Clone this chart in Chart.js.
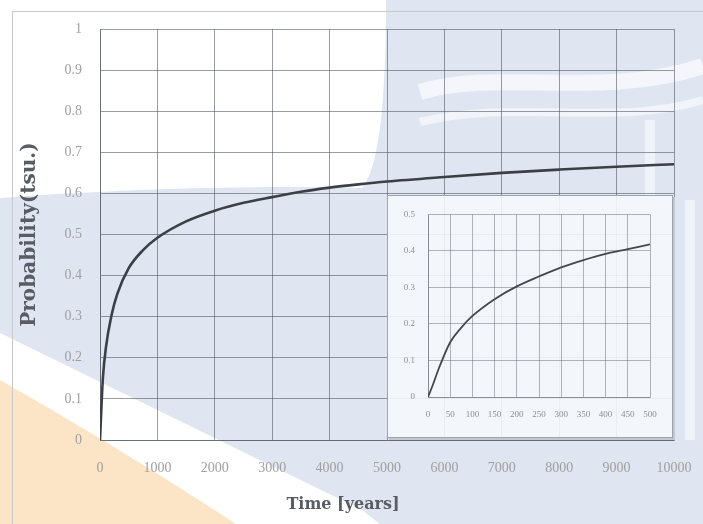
<!DOCTYPE html>
<html>
<head>
<meta charset="utf-8">
<script src="https://cdn.jsdelivr.net/npm/chart.js@4/dist/chart.umd.min.js"></script>
<style>
  html, body { margin:0; padding:0; width:703px; height:524px; overflow:hidden; background:#fff; }
  #wrap { position:relative; width:703px; height:524px; }
  #bg { position:absolute; left:0; top:0; }
  #frame { position:absolute; left:12px; top:11px; width:720px; height:540px; border-left:1px solid #c9c9c9; border-top:1px solid #c9c9c9; }
  #main { position:absolute; left:0; top:0; }
  #insetBox { position:absolute; left:387px; top:195px; width:284px; height:241px;
    background:rgba(246,248,252,0.88); border:1px solid #9ea3ab; box-shadow:2px 2px 0 #c3c7ce; }
  #inset { position:absolute; left:0; top:0; }
</style>
</head>
<body>
<div id="wrap">
  <svg id="bg" width="703" height="524" xmlns="http://www.w3.org/2000/svg">
    <rect x="0" y="0" width="703" height="524" fill="#ffffff"/>
    <path d="M0,198 Q180,184 362,188 Q386,160 386,0 L703,0 L703,524 L0,524 Z" fill="#dfe6f2"/>
    <path d="M0,333 L362,510 L380,524 L0,524 Z" fill="#ffffff"/>
    <path d="M0,380 Q120,448 236,524 L0,524 Z" fill="#fbe5c6"/>
    <path d="M420,92 C500,68 600,100 703,66" stroke="#ffffff" stroke-width="16" fill="none" opacity="0.65"/>
    <path d="M420,122 C520,98 610,128 703,100" stroke="#ffffff" stroke-width="8" fill="none" opacity="0.55"/>
    <path d="M650,120 L650,195" stroke="#ffffff" stroke-width="10" fill="none" opacity="0.5"/>
    <path d="M690,200 L690,440" stroke="#ffffff" stroke-width="10" fill="none" opacity="0.5"/>
  </svg>
  <div id="frame"></div>
  <canvas id="main" width="703" height="524"></canvas>
  <div id="insetBox"><canvas id="inset" width="284" height="241"></canvas></div>
</div>
<script>
// ---- Main chart data ----
const mainTime = [0, 25, 50, 100, 200, 300, 500, 750, 1000, 1500, 2000, 2500, 3000, 3500, 4000, 4500, 5000, 6000, 7000, 8000, 9000, 10000];
const mainProb = [0, 0.08, 0.15, 0.222, 0.303, 0.355, 0.418, 0.462, 0.492, 0.532, 0.558, 0.577, 0.591, 0.604, 0.614, 0.622, 0.629, 0.640, 0.650, 0.658, 0.665, 0.671];

// ---- Inset chart data ----
const insetTime = [0, 10, 25, 50, 75, 100, 150, 200, 250, 300, 350, 400, 450, 500];
const insetProb = [0, 0.03, 0.08, 0.15, 0.19, 0.222, 0.268, 0.303, 0.330, 0.355, 0.375, 0.392, 0.405, 0.418];

// ---- Axis settings ----
const mainXMax = 10000, mainXStep = 1000;
const mainYMax = 1, mainYStep = 0.1;
const insetXMax = 500, insetXStep = 50;
const insetYMax = 0.5, insetYStep = 0.1;

const xTitle = 'Time [years]';
const yTitle = 'Probability(tsu.)';

const fmtY = v => String(+Number(v).toFixed(1));
const fmtX = v => String(Math.round(v));

const tickFont = { family: 'Liberation Serif', size: 14 };
const gridCol = 'rgba(70,76,88,0.55)';

new Chart(document.getElementById('main'), {
  type: 'line',
  data: { datasets: [{
    data: mainTime.map((t, i) => ({ x: t, y: mainProb[i] })),
    borderColor: '#3c3f45', borderWidth: 2.6, pointRadius: 0,
    cubicInterpolationMode: 'monotone', fill: false
  }]},
  options: {
    responsive: false, animation: false,
    plugins: {
      legend: { display: false }, tooltip: { enabled: false },
      title: { display: true, position: 'bottom', text: xTitle, color: '#595c62',
        font: { family: 'DejaVu Serif', size: 16, weight: 'bold' }, padding: { top: 4.4, bottom: 9.4 } }
    },
    layout: { padding: { left: 12, right: 29, top: 29, bottom: 0 } },
    scales: {
      x: {
        type: 'linear', min: 0, max: mainXMax,
        ticks: { stepSize: mainXStep, padding: 20, color: '#a0a0a0', font: tickFont, callback: fmtX, maxRotation: 0 },
        grid: { color: gridCol, drawTicks: false },
        border: { color: gridCol },
        afterFit: s => { s.height = 51; s.paddingRight = 0; s.paddingLeft = 0; }
      },
      y: {
        min: 0, max: mainYMax,
        ticks: { stepSize: mainYStep, padding: 18, color: '#a0a0a0', font: tickFont, callback: fmtY },
        grid: { color: gridCol, drawTicks: false },
        border: { color: gridCol },
        title: { display: true, text: yTitle, color: '#595c62',
          font: { family: 'DejaVu Serif', size: 20, weight: 'bold' }, padding: { top: 6, bottom: 0 } },
        afterFit: s => { s.width = 88; }
      }
    }
  }
});

const insetFont = { family: 'Liberation Serif', size: 9 };
const insetGrid = 'rgba(90,96,108,0.45)';
new Chart(document.getElementById('inset'), {
  type: 'line',
  data: { datasets: [{
    data: insetTime.map((t, i) => ({ x: t, y: insetProb[i] })),
    borderColor: '#44474d', borderWidth: 1.8, pointRadius: 0,
    cubicInterpolationMode: 'monotone', fill: false
  }]},
  options: {
    responsive: false, animation: false,
    plugins: { legend: { display: false }, tooltip: { enabled: false } },
    layout: { padding: { left: 4, right: 22, top: 12, bottom: 0 } },
    scales: {
      x: {
        type: 'linear', min: 0, max: insetXMax,
        ticks: { stepSize: insetXStep, padding: 12, color: '#8e8e8e', font: insetFont, callback: fmtX, maxRotation: 0, autoSkip: false },
        grid: { color: insetGrid, drawTicks: false },
        border: { color: insetGrid },
        afterFit: s => { s.height = 40; }
      },
      y: {
        min: 0, max: insetYMax,
        ticks: { stepSize: insetYStep, padding: 13, color: '#8e8e8e', font: insetFont, callback: fmtY },
        grid: { color: insetGrid, drawTicks: false },
        border: { color: insetGrid },
        afterFit: s => { s.width = 36; }
      }
    }
  }
});
</script>
</body>
</html>
